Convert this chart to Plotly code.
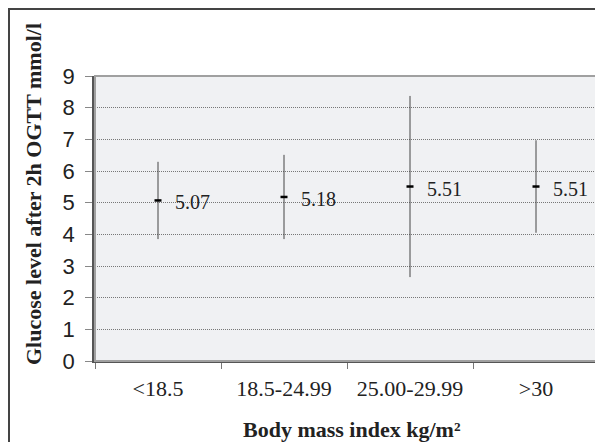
import plotly.graph_objects as go

categories = ["<18.5", "18.5-24.99", "25.00-29.99", ">30"]
means = [5.07, 5.18, 5.51, 5.51]
sds = [1.22, 1.33, 2.86, 1.46]
y_ticks = list(range(0, 10))

# page body has an 8px margin; figure is sized to fit the 603x442 window
OFF = 8
W, H = 603 - OFF, 442 - OFF
L, T = 95 - OFF, 76 - OFF
R = W - (599 - OFF)
B = H - (361 - OFF)
pw, ph = W - L - R, H - T - B

def px_x(x):
    return (x - OFF - L) / pw

def px_y(y):
    return (H - B - (y - OFF)) / ph

fig = go.Figure()
fig.add_trace(go.Scatter(
    x=categories, y=means, mode="markers",
    marker=dict(symbol="line-ew", size=5, color="black", line=dict(width=2.5, color="black")),
    error_y=dict(type="data", array=sds, visible=True, color="#444", thickness=1, width=0),
    showlegend=False, hoverinfo="skip",
))

annotations = []
for c, m in zip(categories, means):
    annotations.append(dict(x=c, y=m, xref="x", yref="y", text=f"{m:.2f}", showarrow=False,
                            xanchor="left", yanchor="middle", xshift=15, yshift=-2,
                            font=dict(family="Liberation Serif", size=20, color="#222")))

annotations.append(dict(x=px_x(33), y=px_y(194), xref="paper", yref="paper",
                        text="<b>Glucose level after 2h OGTT mmol/l</b>", textangle=-90,
                        showarrow=False, xanchor="center", yanchor="middle",
                        font=dict(family="Liberation Serif", size=22, color="#222")))
annotations.append(dict(x=px_x(352), y=px_y(429), xref="paper", yref="paper",
                        text="<b>Body mass index kg/m²</b>",
                        showarrow=False, xanchor="center", yanchor="middle",
                        font=dict(family="Liberation Serif", size=22, color="#222")))

shapes = [
    dict(type="rect", xref="paper", yref="paper", x0=0, x1=1, y0=0, y1=1,
         line=dict(color="#a0a0a0", width=2), layer="above"),
    dict(type="rect", xref="paper", yref="paper", x0=px_x(OFF + 1), x1=px_x(W + 40),
         y0=px_y(H + 40), y1=px_y(OFF + 1), line=dict(color="#444", width=2)),
]

fig.update_layout(
    width=W, height=H,
    margin=dict(l=L, r=R, t=T, b=B),
    paper_bgcolor="white", plot_bgcolor="#f0f1f3",
    annotations=annotations, shapes=shapes,
    xaxis=dict(type="category", tickson="boundaries", ticks="outside", ticklen=6,
               tickcolor="#777", showline=True, linecolor="#555", linewidth=2,
               showgrid=False, tickfont=dict(family="Liberation Serif", size=22, color="#222"),
               range=[-0.5, 3.5], ticklabelstandoff=7),
    yaxis=dict(range=[0, 9], tickvals=y_ticks, ticks="outside", ticklen=7, tickcolor="#888",
               showline=True, linecolor="#555", linewidth=2.5, showgrid=True,
               gridcolor="#777", gridwidth=1, griddash="1px,1px", zeroline=False,
               tickfont=dict(family="Liberation Sans", size=22, color="#222"),
               ticklabelstandoff=6),
)

fig.write_html("out.html")
